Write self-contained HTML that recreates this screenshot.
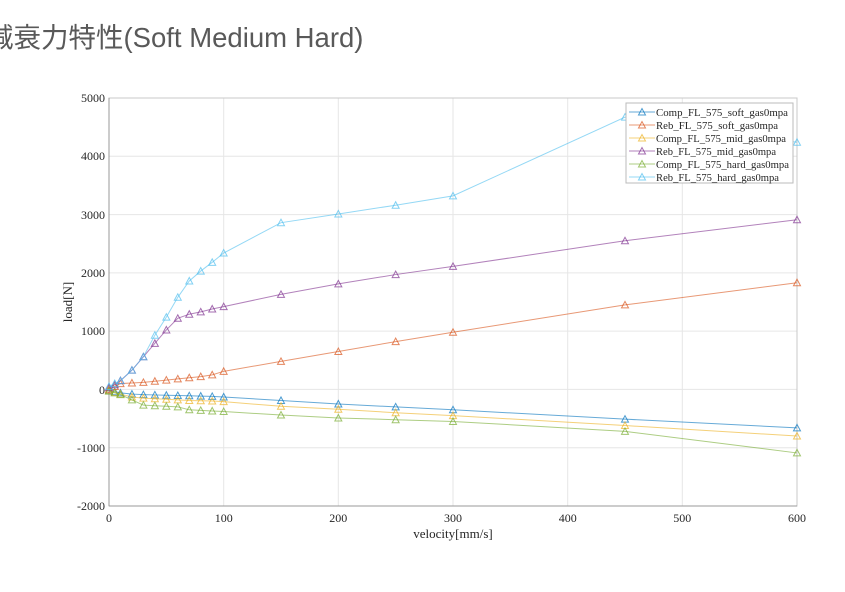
<!DOCTYPE html>
<html><head><meta charset="utf-8"><style>
html,body{margin:0;padding:0;background:#fff;width:845px;height:592px;overflow:hidden;position:relative}
.t{position:absolute;left:-14px;top:15px;font-family:"Liberation Sans","Noto Sans CJK JP",sans-serif;font-size:27.5px;color:#595959;white-space:nowrap}
svg{position:absolute;left:0;top:0}
text{font-family:"Liberation Serif",serif;fill:#262626}
</style></head><body>
<div class="t">減衰力特性(Soft Medium Hard)</div>
<svg width="845" height="592" id="s">
<g stroke="#e6e6e6" stroke-width="1">
<line x1="223.7" y1="98" x2="223.7" y2="506"/><line x1="338.3" y1="98" x2="338.3" y2="506"/><line x1="453" y1="98" x2="453" y2="506"/><line x1="567.7" y1="98" x2="567.7" y2="506"/><line x1="682.3" y1="98" x2="682.3" y2="506"/>
<line x1="109" y1="156.3" x2="797" y2="156.3"/><line x1="109" y1="214.6" x2="797" y2="214.6"/><line x1="109" y1="272.9" x2="797" y2="272.9"/><line x1="109" y1="331.1" x2="797" y2="331.1"/><line x1="109" y1="389.4" x2="797" y2="389.4"/><line x1="109" y1="447.7" x2="797" y2="447.7"/>
</g>
<rect x="109" y="98" width="688" height="408" fill="none" stroke="#c8c8c8"/>
<line x1="109" y1="98" x2="109" y2="506" stroke="#999"/><line x1="109" y1="506" x2="797" y2="506" stroke="#999"/>
<g id="series" fill="none" stroke-width="1"></g>
<g font-size="12" text-anchor="end">
<text x="105" y="102">5000</text><text x="105" y="160">4000</text><text x="105" y="219">3000</text><text x="105" y="277">2000</text><text x="105" y="335">1000</text><text x="105" y="394">0</text><text x="105" y="452">-1000</text><text x="105" y="510">-2000</text>
</g>
<g font-size="12" text-anchor="middle">
<text x="109" y="522">0</text><text x="223.7" y="522">100</text><text x="338.3" y="522">200</text><text x="453" y="522">300</text><text x="567.7" y="522">400</text><text x="682.3" y="522">500</text><text x="797" y="522">600</text>
<text x="453" y="538" font-size="13">velocity[mm/s]</text>
<text x="0" y="0" font-size="13" transform="translate(72,302) rotate(-90)">load[N]</text>
</g>
<rect x="626" y="103" width="167" height="80" fill="#fff" stroke="#bbb"/>
<g id="legl" fill="none"></g>
<g id="leg" font-size="10.5">
<text x="656" y="116" textLength="132" lengthAdjust="spacingAndGlyphs">Comp_FL_575_soft_gas0mpa</text>
<text x="656" y="129" textLength="122" lengthAdjust="spacingAndGlyphs">Reb_FL_575_soft_gas0mpa</text>
<text x="656" y="142" textLength="130" lengthAdjust="spacingAndGlyphs">Comp_FL_575_mid_gas0mpa</text>
<text x="656" y="155" textLength="120" lengthAdjust="spacingAndGlyphs">Reb_FL_575_mid_gas0mpa</text>
<text x="656" y="168" textLength="133" lengthAdjust="spacingAndGlyphs">Comp_FL_575_hard_gas0mpa</text>
<text x="656" y="181" textLength="123" lengthAdjust="spacingAndGlyphs">Reb_FL_575_hard_gas0mpa</text>
</g>
</svg>
<script>
var V=[0,5,10,20,30,40,50,60,70,80,90,100,150,200,250,300,450,600];
var S=[
["#0072BD",[-20,-40,-60,-80,-90,-95,-100,-105,-110,-115,-120,-130,-190,-250,-300,-350,-510,-660]],
["#D95319",[0,50,100,110,120,140,160,180,200,220,250,310,480,650,820,980,1450,1830]],
["#EDB120",[-20,-50,-80,-130,-150,-160,-170,-180,-190,-195,-200,-210,-290,-340,-400,-450,-620,-800]],
["#7E2F8E",[30,80,150,330,560,790,1020,1220,1290,1330,1380,1420,1630,1810,1970,2110,2550,2910]],
["#77AC30",[-30,-60,-90,-180,-270,-280,-290,-300,-350,-360,-370,-380,-440,-490,-520,-550,-720,-1090]],
["#4DBEEE",[50,100,150,330,560,930,1240,1580,1860,2030,2180,2340,2860,3010,3160,3320,4670,4240]]];
var g=document.getElementById('series'),lg=document.getElementById('legl'),ns="http://www.w3.org/2000/svg";
function tri(x,y,c,p){var t=document.createElementNS(ns,'polygon');t.setAttribute('points',(x-3.5)+','+(y+3)+' '+(x+3.5)+','+(y+3)+' '+x+','+(y-3.5));t.setAttribute('stroke',c);t.setAttribute('fill','none');t.setAttribute('opacity','0.7');p.appendChild(t);}
S.forEach(function(s,i){var pts=[];V.forEach(function(v,j){pts.push([109+v*688/600,389.4-s[1][j]*0.05829]);});
var pl=document.createElementNS(ns,'polyline');pl.setAttribute('points',pts.map(function(p){return p.join(',')}).join(' '));pl.setAttribute('stroke',s[0]);pl.setAttribute('opacity','0.6');g.appendChild(pl);
pts.forEach(function(p){tri(p[0],p[1],s[0],g);});
var y=112+13*i;var l=document.createElementNS(ns,'line');l.setAttribute('x1',629);l.setAttribute('x2',655);l.setAttribute('y1',y);l.setAttribute('y2',y);l.setAttribute('stroke',s[0]);l.setAttribute('opacity','0.6');lg.appendChild(l);tri(642,y,s[0],lg);});
</script>
</body></html>
